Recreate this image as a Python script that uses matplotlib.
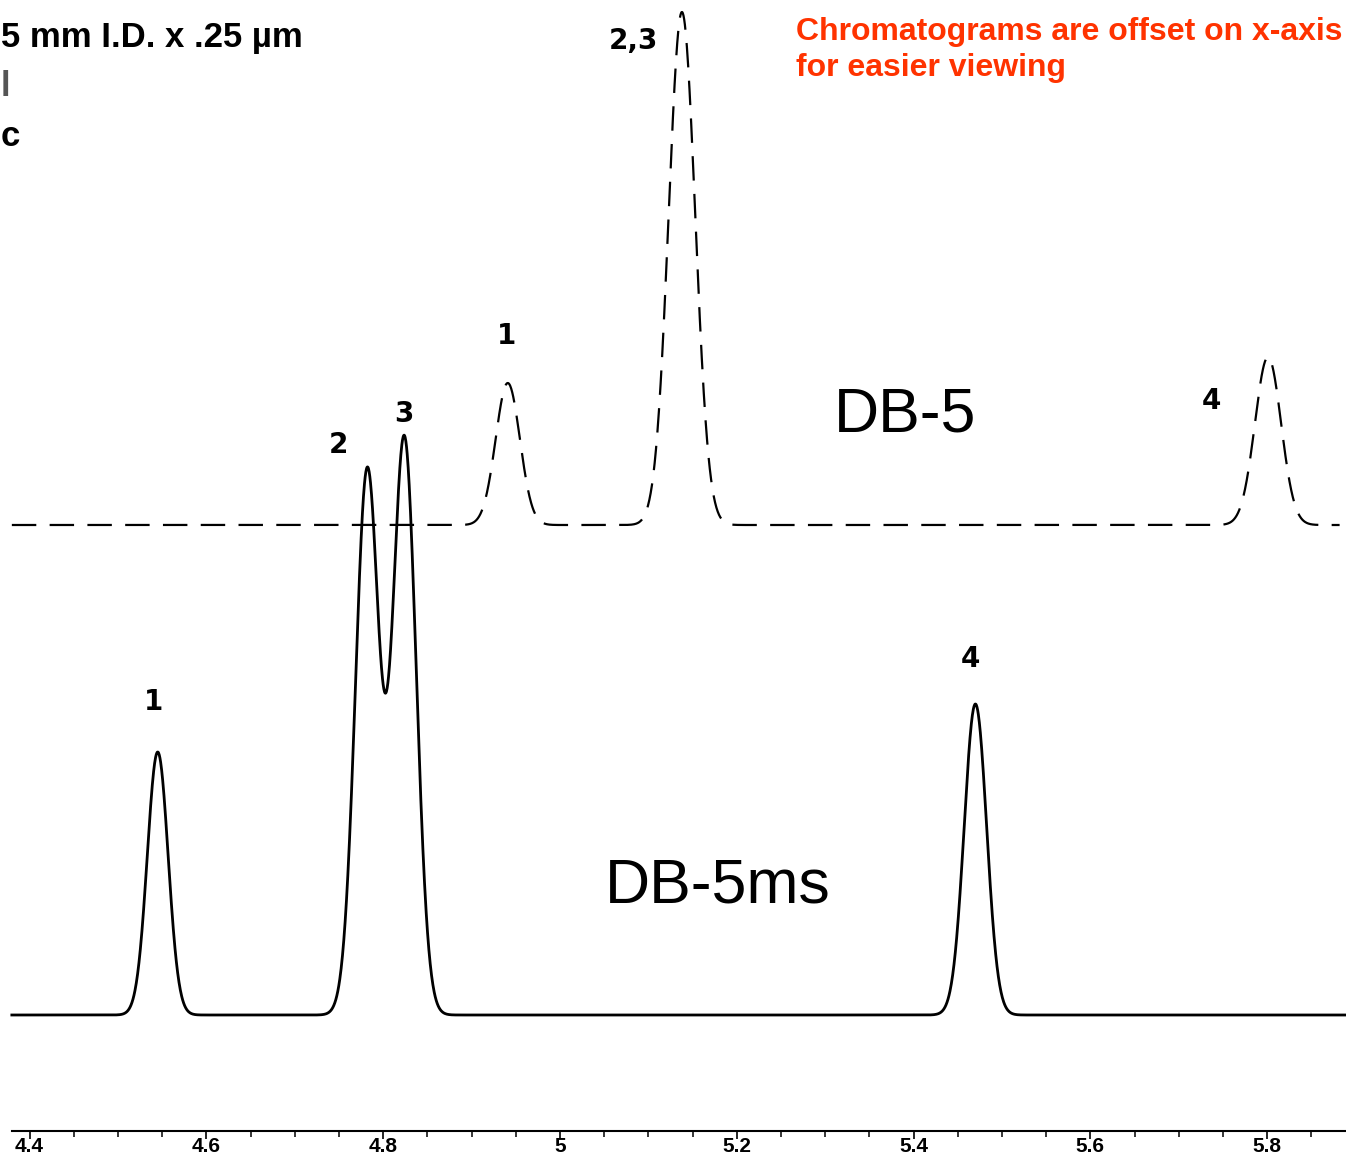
import numpy as np
import matplotlib
matplotlib.use("Agg")
import matplotlib.pyplot as plt

# ---------------- data ----------------
# DB-5ms (solid trace): retention time (min), peak height (signal units), peak sigma (min)
ms_rt = [4.545, 4.782, 4.824, 5.470]
ms_height = [263, 544, 576, 311]
ms_sigma = [0.0118, 0.0133, 0.0133, 0.0127]
ms_labels = ["1", "2", "3", "4"]

# DB-5 (dashed trace)
db5_rt = [4.941, 5.138, 5.801]
db5_height = [142, 513, 168]
db5_sigma = [0.0137, 0.0150, 0.0148]
db5_labels = ["1", "2,3", "4"]
db5_offset = 490          # vertical offset of the DB-5 baseline

tick_values = [4.4, 4.6, 4.8, 5.0, 5.2, 5.4, 5.6, 5.8]
tick_labels = ["4.4", "4.6", "4.8", "5", "5.2", "5.4", "5.6", "5.8"]

# ---------------- figure ----------------
W, H = 1346, 1156
fig = plt.figure(figsize=(W / 100, H / 100), dpi=100)
bottom_px = 1131
ax = fig.add_axes([0, (H - bottom_px) / H, 1, bottom_px / H])
x0, x1 = 4.3666, 4.3666 + W / 884.0
ax.set_xlim(x0, x1)
ax.set_ylim(-116, 1015)


def trace(t, rts, hs, sigs, base=0.0):
    y = np.full_like(t, base, dtype=float)
    for r, h, s in zip(rts, hs, sigs):
        y += h * np.exp(-0.5 * ((t - r) / s) ** 2)
    return y


t_ms = np.linspace(4.380, x1, 4000)
ax.plot(t_ms, trace(t_ms, ms_rt, ms_height, ms_sigma), color="black",
        lw=2.0, solid_joinstyle="round")

t_db = np.linspace(4.380, 5.882, 4000)
ax.plot(t_db, trace(t_db, db5_rt, db5_height, db5_sigma, db5_offset),
        color="black", lw=1.6, dashes=(11, 6))

# peak labels (offsets in px: dx, dy relative to peak apex)
ms_lab_off = [(-4, 50), (-29, 26), (0, 25), (-5, 45)]
db5_lab_off = [(-1, 47), (-48, -29), (-57, -44)]
lab_font = dict(fontsize=20, fontweight="heavy", family="DejaVu Sans",
                ha="center", va="center", color="black")
for r, h, lab, (dx, dy) in zip(ms_rt, ms_height, ms_labels, ms_lab_off):
    ax.text(r + dx / 884.0, h + dy, lab, **lab_font)
for r, h, lab, (dx, dy) in zip(db5_rt, db5_height, db5_labels, db5_lab_off):
    ax.text(r + dx / 884.0, h + db5_offset + dy, lab, **lab_font)

# trace names
ax.text(905 / W, 1 - 415 / bottom_px, "DB-5", transform=ax.transAxes,
        fontsize=45, family=["Liberation Sans", "DejaVu Sans"],
        ha="center", va="center")
ax.text(718 / W, 1 - 886 / bottom_px, "DB-5ms", transform=ax.transAxes,
        fontsize=45, family=["Liberation Sans", "DejaVu Sans"],
        ha="center", va="center")

# note in red
fig.text(796 / W, 1 - 17 / H,
         "Chromatograms are offset on x-axis\nfor easier viewing",
         color="#FF3300", fontsize=23, fontweight="bold",
         family=["Liberation Sans", "DejaVu Sans"], ha="left", va="top",
         linespacing=1.28)

# partially visible column description (cut at the left edge in the source)
cond = ["Liberation Sans", "DejaVu Sans"]
fig.text(303 / W, 1 - 37 / H, "5 mm I.D. x .25 \u00b5m", fontsize=25,
         fontweight="bold", family=cond, ha="right", va="center",
         fontstretch="condensed")
fig.text(1 / W, 1 - 87 / H, "l", fontsize=25, fontweight="bold",
         family=cond, ha="left", va="center", color="#555555")
fig.text(1 / W, 1 - 137 / H, "c", fontsize=25, fontweight="bold",
         family=cond, ha="left", va="center")

# x axis
for s in ["top", "left", "right"]:
    ax.spines[s].set_visible(False)
ax.spines["bottom"].set_linewidth(1.5)
ax.spines["bottom"].set_bounds(4.380, x1)
ax.set_yticks([])
ax.set_xticks(tick_values)
ax.set_xticklabels(tick_labels, fontsize=15, fontweight="bold",
                   family=["Liberation Sans", "DejaVu Sans"])
ax.set_xticks(np.arange(4.4, 5.90, 0.05), minor=True)
ax.tick_params(axis="x", which="major", direction="out", length=6, width=1.2,
               pad=-2)
ax.tick_params(axis="x", which="minor", direction="out", length=4, width=1.1)

fig.savefig("out.png", dpi=100)
